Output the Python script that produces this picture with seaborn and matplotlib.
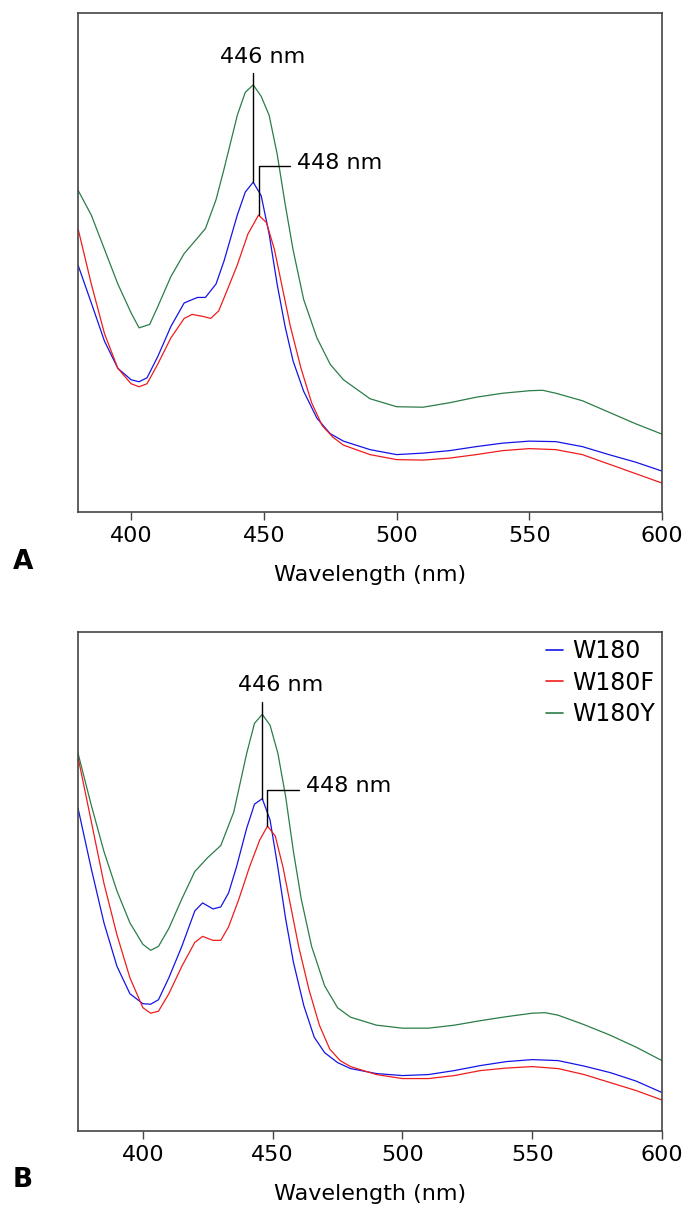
import numpy as np
import pandas as pd
import seaborn as sns
import matplotlib.pyplot as plt
from matplotlib.lines import Line2D

sns.set_style("white")
plt.rcParams['font.family'] = ['DejaVu Sans']
plt.rcParams.update({'text.color': 'black', 'axes.labelcolor': 'black',
                     'xtick.labelcolor': 'black'})

variants = ["W180", "W180F", "W180Y"]
colors = {"W180": "#1414e6", "W180F": "#f01c1c", "W180Y": "#2b7d48"}

# ---- panel A (absorbance, arbitrary units) ----
wl_a_w180 = [380, 385, 390, 395, 400, 403, 406, 410, 415, 420, 425, 428, 432, 435, 440, 443, 446, 449, 452,
             455, 458, 461, 465, 470, 475, 480, 490, 500, 510, 520, 530, 540, 550, 560, 570, 580, 590, 600]
abs_a_w180 = [0.495, 0.419, 0.342, 0.288, 0.265, 0.261, 0.269, 0.311, 0.372, 0.419, 0.430, 0.430, 0.457,
              0.503, 0.595, 0.641, 0.661, 0.634, 0.557, 0.457, 0.372, 0.303, 0.242, 0.188, 0.157, 0.142,
              0.125, 0.115, 0.118, 0.123, 0.131, 0.138, 0.142, 0.141, 0.131, 0.115, 0.100, 0.082]

wl_a_w180f = [380, 385, 390, 395, 400, 403, 406, 410, 415, 420, 423, 427, 430, 433, 436, 440, 444, 448, 451,
              454, 457, 460, 464, 468, 472, 476, 480, 490, 500, 510, 520, 530, 540, 550, 560, 570, 580, 590, 600]
abs_a_w180f = [0.568, 0.457, 0.357, 0.288, 0.257, 0.251, 0.257, 0.296, 0.349, 0.388, 0.396, 0.392, 0.388,
               0.403, 0.442, 0.495, 0.557, 0.595, 0.580, 0.526, 0.449, 0.372, 0.288, 0.219, 0.173, 0.150,
               0.134, 0.115, 0.105, 0.104, 0.108, 0.115, 0.123, 0.127, 0.125, 0.115, 0.096, 0.077, 0.058]

wl_a_w180y = [380, 385, 390, 395, 400, 403, 407, 410, 415, 420, 425, 428, 432, 435, 440, 443, 446, 449, 452,
              455, 458, 461, 465, 470, 475, 480, 490, 500, 510, 520, 530, 540, 550, 555, 560, 570, 580, 590, 600]
abs_a_w180y = [0.645, 0.595, 0.526, 0.457, 0.399, 0.369, 0.376, 0.411, 0.472, 0.518, 0.549, 0.568, 0.626,
               0.687, 0.795, 0.841, 0.856, 0.833, 0.795, 0.718, 0.618, 0.526, 0.426, 0.349, 0.296, 0.265,
               0.227, 0.211, 0.210, 0.219, 0.230, 0.238, 0.243, 0.244, 0.238, 0.223, 0.200, 0.177, 0.156]

# ---- panel B ----
wl_b_w180 = [375, 380, 385, 390, 395, 400, 403, 406, 410, 415, 420, 423, 427, 430, 433, 436, 440, 443, 446, 449,
             452, 455, 458, 462, 466, 470, 475, 480, 490, 500, 510, 520, 530, 540, 550, 560, 570, 580, 590, 600]
abs_b_w180 = [0.647, 0.528, 0.417, 0.330, 0.275, 0.255, 0.254, 0.263, 0.307, 0.370, 0.441, 0.457, 0.445,
              0.449, 0.477, 0.528, 0.607, 0.655, 0.666, 0.623, 0.528, 0.425, 0.338, 0.251, 0.188, 0.157,
              0.137, 0.125, 0.115, 0.111, 0.113, 0.121, 0.131, 0.139, 0.143, 0.141, 0.130, 0.117, 0.100, 0.077]

wl_b_w180f = [375, 380, 385, 390, 395, 400, 403, 406, 410, 415, 420, 423, 427, 430, 433, 437, 441, 445, 448, 451,
              454, 457, 460, 464, 468, 472, 476, 480, 490, 500, 510, 520, 530, 540, 550, 560, 570, 580, 590, 600]
abs_b_w180f = [0.749, 0.623, 0.496, 0.393, 0.307, 0.247, 0.236, 0.240, 0.275, 0.330, 0.378, 0.390, 0.382,
               0.382, 0.409, 0.465, 0.528, 0.583, 0.611, 0.591, 0.528, 0.449, 0.370, 0.283, 0.212, 0.164,
               0.141, 0.129, 0.113, 0.105, 0.105, 0.111, 0.121, 0.126, 0.129, 0.125, 0.113, 0.097, 0.081, 0.062]

wl_b_w180y = [375, 380, 385, 390, 395, 400, 403, 406, 410, 415, 420, 425, 430, 435, 440, 443, 446, 449, 452,
              455, 458, 461, 465, 470, 475, 480, 490, 500, 510, 520, 530, 540, 550, 555, 560, 570, 580, 590, 600]
abs_b_w180y = [0.757, 0.655, 0.560, 0.481, 0.417, 0.374, 0.362, 0.370, 0.406, 0.465, 0.520, 0.548, 0.572,
               0.639, 0.757, 0.817, 0.835, 0.813, 0.757, 0.670, 0.560, 0.465, 0.370, 0.291, 0.247, 0.228,
               0.212, 0.206, 0.206, 0.212, 0.221, 0.229, 0.236, 0.237, 0.232, 0.213, 0.192, 0.168, 0.141]

xticks = [400, 450, 500, 550, 600]


def to_long(series):
    frames = []
    for name, (wl, ab) in series.items():
        frames.append(pd.DataFrame({"wavelength": wl, "absorbance": ab, "variant": name}))
    return pd.concat(frames, ignore_index=True)


df_a = to_long({"W180Y": (wl_a_w180y, abs_a_w180y),
                "W180": (wl_a_w180, abs_a_w180),
                "W180F": (wl_a_w180f, abs_a_w180f)})
df_b = to_long({"W180Y": (wl_b_w180y, abs_b_w180y),
                "W180": (wl_b_w180, abs_b_w180),
                "W180F": (wl_b_w180f, abs_b_w180f)})


def draw_panel(ax, df, xmin, ann):
    sns.lineplot(data=df, x="wavelength", y="absorbance", hue="variant", palette=colors,
                 linewidth=0.9, legend=False, ax=ax)
    ax.set_xlim(xmin, 600)
    ax.set_ylim(0, 1)
    ax.set_yticks([])
    ax.set_xticks(xticks)
    ax.tick_params(axis="x", direction="out", length=6, width=1, color="#444444",
                   labelsize=16, pad=4, bottom=True)
    for s in ax.spines.values():
        s.set_color("#444444")
        s.set_linewidth(1.2)
    ax.set_ylabel("")
    ax.set_xlabel("Wavelength (nm)", fontsize=16, labelpad=14)

    # peak labels
    (y446_lo, y446_hi, t446), (y448_lo, y448_hi, t448) = ann
    ax.plot([446, 446], [y446_lo, y446_hi], color="black", lw=1)
    ax.text(t446[0], t446[1], "446 nm", fontsize=16, ha="center", va="center")
    ax.plot([448, 448, 460], [y448_lo, y448_hi, y448_hi], color="black", lw=1)
    ax.text(t448[0], t448[1], "448 nm", fontsize=16, ha="left", va="center")


fig = plt.figure(figsize=(6.88, 12.17), dpi=100)
ax_a = fig.add_axes([0.1134, 0.5793, 0.8488, 0.41])
ax_b = fig.add_axes([0.1134, 0.0707, 0.8488, 0.41])

draw_panel(ax_a, df_a, 380,
           ((0.661, 0.879, (449.7, 0.912)), (0.595, 0.694, (462.5, 0.699))))
draw_panel(ax_b, df_b, 375,
           ((0.666, 0.860, (453.0, 0.893)), (0.611, 0.684, (462.7, 0.692))))

handles = [Line2D([0], [0], color=colors[v], lw=1.2) for v in variants]
ax_b.legend(handles, variants, loc="upper right", bbox_to_anchor=(1.0, 1.0), frameon=False,
            fontsize=17, handlelength=0.7, handletextpad=0.4, labelspacing=0.32,
            borderaxespad=0.1, borderpad=0.2)

fig.text(13 / 688, 1 - 562 / 1217, "A", fontsize=19, fontweight="bold", ha="left", va="center")
fig.text(13 / 688, 1 - 1180 / 1217, "B", fontsize=19, fontweight="bold", ha="left", va="center")

fig.savefig("out.png", dpi=100)
